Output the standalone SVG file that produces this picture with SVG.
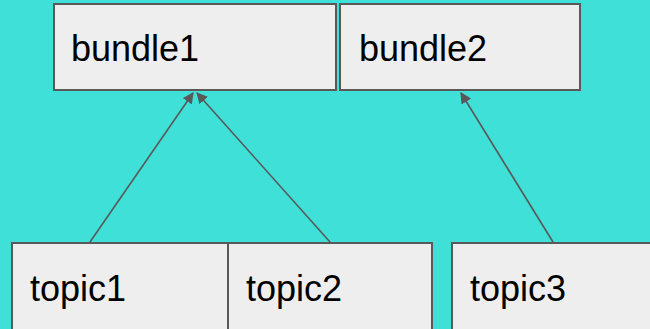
<svg xmlns="http://www.w3.org/2000/svg" width="650" height="329" viewBox="0 0 650 329">
  <style>
    .box { fill: #eeeeee; stroke: #595959; stroke-width: 2; }
    .label { font-family: "Liberation Sans", Arial, sans-serif; font-size: 36px; fill: #000000; }
    .edge { stroke: #595959; stroke-width: 1.6; fill: none; marker-end: url(#head); }
  </style>
  <defs>
    <marker id="head" viewBox="0 0 10 10" refX="9" refY="5" markerWidth="7" markerHeight="7" markerUnits="strokeWidth" orient="auto">
      <path d="M0,0 L10,5 L0,10 z" fill="#595959"/>
    </marker>
  </defs>
  <rect width="650" height="329" fill="#3fe0d8"/>

  <g id="bundle1">
    <rect class="box" x="54" y="4" width="282" height="86"/>
    <text class="label" x="71" y="61">bundle1</text>
  </g>
  <g id="bundle2">
    <rect class="box" x="340" y="4" width="240" height="86"/>
    <text class="label" x="359" y="61">bundle2</text>
  </g>
  <g id="topic1">
    <rect class="box" x="12" y="243" width="262" height="100"/>
    <text class="label" x="30" y="301">topic1</text>
  </g>
  <g id="topic2">
    <rect class="box" x="228" y="243" width="204" height="100"/>
    <text class="label" x="246" y="301">topic2</text>
  </g>
  <g id="topic3">
    <rect class="box" x="452" y="243" width="210" height="100"/>
    <text class="label" x="470" y="301">topic3</text>
  </g>

  <g id="connectors">
    <line class="edge" x1="90" y1="242" x2="193" y2="93"/>
    <line class="edge" x1="330" y1="242" x2="197" y2="93"/>
    <line class="edge" x1="553" y1="242" x2="461" y2="93"/>
  </g>
</svg>
